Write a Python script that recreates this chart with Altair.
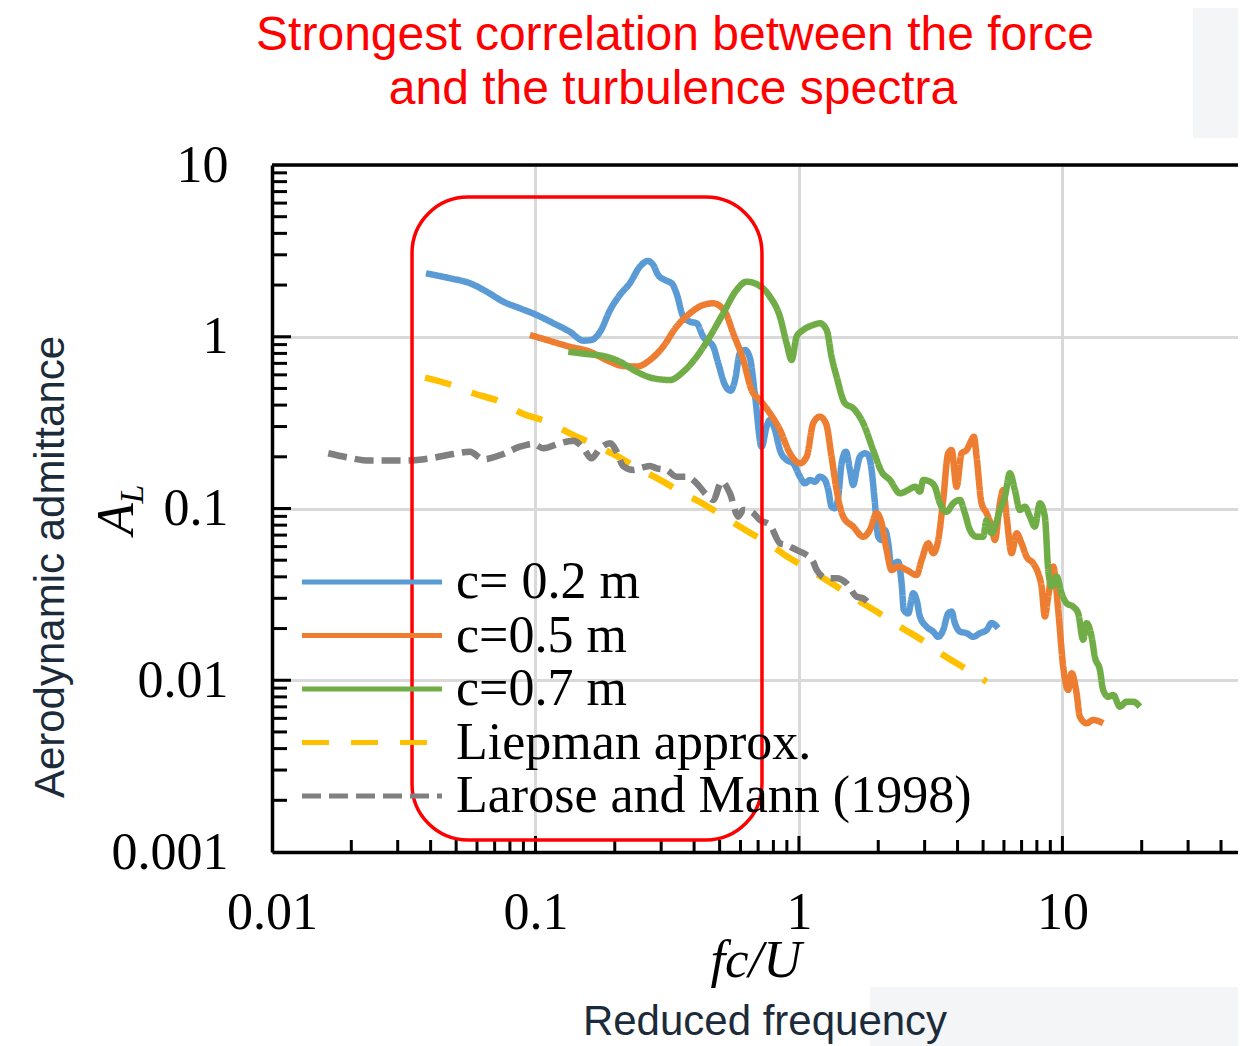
import altair as alt
import pandas as pd

# ---------------- data ----------------
series_names = ["c= 0.2 m", "c=0.5 m", "c=0.7 m", "Liepman approx.", "Larose and Mann (1998)"]
series_colors = ["#5b9bd5", "#ed7d31", "#70ad47", "#ffc000", "#808080"]
series_dashes = [[1, 0], [1, 0], [1, 0], [27, 22], [19, 8]]

c02_points = [
    (0.0384, 2.34), (0.0474, 2.19), (0.0564, 2.05), (0.0653, 1.83), (0.0755, 1.60), (0.0873, 1.465),
    (0.101, 1.339), (0.117, 1.198), (0.135, 1.070), (0.152, 0.949), (0.163, 0.958), (0.176, 1.070),
    (0.192, 1.432), (0.209, 1.750), (0.228, 2.047), (0.249, 2.558), (0.267, 2.761), (0.280, 2.617),
    (0.292, 2.289), (0.310, 2.14), (0.329, 2.047), (0.343, 1.79), (0.364, 1.309), (0.386, 1.224),
    (0.409, 1.198), (0.433, 1.001), (0.473, 0.875), (0.494, 0.701), (0.524, 0.524), (0.551, 0.485),
    (0.572, 0.560), (0.597, 0.801), (0.624, 0.837), (0.652, 0.749), (0.681, 0.458), (0.722, 0.229),
    (0.754, 0.300), (0.776, 0.328), (0.811, 0.287), (0.847, 0.219), (0.898, 0.1916), (0.951, 0.1834),
    (1.009, 0.1532), (1.054, 0.1402), (1.101, 0.1466), (1.150, 0.1433), (1.201, 0.1532), (1.255, 0.1466),
    (1.292, 0.1282), (1.330, 0.1025), (1.370, 0.1003), (1.410, 0.1172), (1.452, 0.1834), (1.508, 0.2142),
    (1.562, 0.1676), (1.607, 0.1371), (1.655, 0.1676), (1.704, 0.2003), (1.780, 0.2097), (1.832, 0.2049),
    (1.887, 0.1676), (1.943, 0.1072), (2.000, 0.0685), (2.060, 0.0656), (2.120, 0.0750), (2.183, 0.0627),
    (2.248, 0.0439), (2.314, 0.0480), (2.382, 0.0490), (2.453, 0.0367), (2.502, 0.0257), (2.598, 0.0245),
    (2.715, 0.0321), (2.797, 0.0293), (2.880, 0.0235), (3.052, 0.0205), (3.233, 0.0192), (3.378, 0.0179),
    (3.528, 0.0196), (3.686, 0.0245), (3.797, 0.0251), (3.908, 0.0215), (4.083, 0.0192), (4.329, 0.0188),
    (4.586, 0.0179), (4.863, 0.0188), (5.157, 0.0196), (5.387, 0.0215), (5.705, 0.0201),
]

c05_points = [
    (0.0953, 1.024), (0.1103, 0.958), (0.135, 0.875), (0.161, 0.818), (0.186, 0.732), (0.215, 0.676),
    (0.242, 0.670), (0.272, 0.732), (0.305, 0.875), (0.343, 1.144), (0.386, 1.370), (0.433, 1.531),
    (0.473, 1.566), (0.524, 1.399), (0.563, 1.048), (0.615, 0.732), (0.661, 0.490), (0.711, 0.428),
    (0.776, 0.3585), (0.847, 0.287), (0.924, 0.2097), (1.009, 0.1834), (1.070, 0.2003), (1.133, 0.3135),
    (1.201, 0.3425), (1.266, 0.3135), (1.330, 0.2003), (1.390, 0.1282), (1.473, 0.0896), (1.607, 0.0784),
    (1.754, 0.0685), (1.859, 0.0750), (1.972, 0.0938), (2.060, 0.0820), (2.152, 0.0573), (2.248, 0.0439),
    (2.382, 0.0459), (2.563, 0.0439), (2.797, 0.0410), (2.922, 0.0502), (3.096, 0.0627), (3.233, 0.0549),
    (3.378, 0.0656), (3.528, 0.1121), (3.686, 0.2097), (3.797, 0.219), (3.966, 0.134), (4.143, 0.2097),
    (4.329, 0.219), (4.522, 0.2506), (4.614, 0.262), (4.724, 0.2003), (4.935, 0.1072), (5.157, 0.0938),
    (5.387, 0.0784), (5.543, 0.0656), (5.792, 0.1072), (5.961, 0.1282), (6.141, 0.0896), (6.415, 0.0549),
    (6.701, 0.0717), (6.999, 0.0627), (7.312, 0.0524), (7.745, 0.0480), (8.09, 0.0420), (8.337, 0.0351),
    (8.58, 0.0235), (8.834, 0.0307), (9.23, 0.0459), (9.64, 0.0257), (10.07, 0.0120), (10.52, 0.00878),
    (10.84, 0.0110), (11.32, 0.00840), (11.65, 0.00614), (12.35, 0.00562), (13.09, 0.00587), (14.28, 0.00562),
]

c07_points = [
    (0.1332, 0.818), (0.156, 0.794), (0.186, 0.765), (0.209, 0.716), (0.242, 0.626), (0.280, 0.573),
    (0.324, 0.560), (0.364, 0.626), (0.409, 0.765), (0.459, 1.001), (0.516, 1.370), (0.580, 1.872),
    (0.633, 2.092), (0.701, 2.001), (0.776, 1.711), (0.847, 1.309), (0.898, 0.916), (0.938, 0.732),
    (0.980, 1.001), (1.038, 1.095), (1.133, 1.171), (1.201, 1.198), (1.274, 1.095), (1.330, 0.765),
    (1.390, 0.585), (1.495, 0.410), (1.607, 0.3834), (1.754, 0.3135), (1.913, 0.219), (2.060, 0.1638),
    (2.215, 0.1466), (2.417, 0.1227), (2.598, 0.1282), (2.756, 0.134), (2.880, 0.1253), (2.963, 0.1466),
    (3.141, 0.1433), (3.281, 0.134), (3.428, 0.1072), (3.635, 0.0958), (3.850, 0.1072), (4.083, 0.1121),
    (4.266, 0.0938), (4.456, 0.0750), (4.724, 0.0685), (5.006, 0.0685), (5.157, 0.0857), (5.387, 0.0717),
    (5.543, 0.0784), (5.792, 0.0980), (6.05, 0.1172), (6.32, 0.1604), (6.60, 0.1282), (6.90, 0.0980),
    (7.20, 0.1025), (7.53, 0.0896), (7.86, 0.0784), (8.21, 0.1072), (8.58, 0.0896), (8.834, 0.0439),
    (9.10, 0.0351), (9.51, 0.0401), (9.93, 0.0321), (10.37, 0.0281), (10.99, 0.0268), (11.48, 0.0245),
    (11.99, 0.0172), (12.35, 0.0215), (12.91, 0.0179), (13.28, 0.0137), (13.88, 0.01148), (14.28, 0.00878),
    (14.92, 0.00802), (15.59, 0.00821), (16.53, 0.00702), (17.52, 0.00750), (18.56, 0.00750), (19.68, 0.00702),
]

liepman_points = [
    (0.0381, 0.578), (0.0481, 0.524), (0.0581, 0.469), (0.0733, 0.419), (0.0886, 0.3585), (0.1103, 0.320),
    (0.135, 0.274), (0.168, 0.2343), (0.200, 0.2049), (0.2455, 0.1714), (0.297, 0.1466), (0.364, 0.1227),
    (0.440, 0.1048), (0.532, 0.0877), (0.642, 0.0733), (0.765, 0.0627), (0.924, 0.0513), (1.101, 0.0439),
    (1.390, 0.0351), (1.632, 0.0300), (1.972, 0.0251), (2.417, 0.0205), (2.922, 0.0172), (3.528, 0.01404),
    (4.266, 0.01174), (5.157, 0.00981),
]

larose_points = [
    (0.01635, 0.2097), (0.0192, 0.1987), (0.02355, 0.190), (0.0315, 0.190), (0.0398, 0.196), (0.0488, 0.2077),
    (0.0564, 0.2142), (0.0634, 0.1935), (0.0755, 0.2077), (0.0873, 0.229), (0.0981, 0.2375), (0.1070, 0.2242),
    (0.1239, 0.2397), (0.1391, 0.2482), (0.152, 0.2242), (0.163, 0.196), (0.176, 0.2242), (0.192, 0.2397),
    (0.2033, 0.2142), (0.215, 0.1768), (0.235, 0.1676), (0.2565, 0.1738), (0.272, 0.1768), (0.2884, 0.1714),
    (0.3147, 0.1676), (0.343, 0.1532), (0.3748, 0.1532), (0.409, 0.1402), (0.446, 0.1199), (0.473, 0.1121),
    (0.509, 0.1433), (0.547, 0.1227), (0.588, 0.0896), (0.615, 0.0980), (0.661, 0.0958), (0.711, 0.0857),
    (0.776, 0.0802), (0.847, 0.0627), (0.898, 0.0613), (0.951, 0.0587), (1.009, 0.0561), (1.070, 0.0536),
    (1.133, 0.0490), (1.167, 0.0439), (1.274, 0.0393), (1.390, 0.0393), (1.517, 0.0367), (1.655, 0.0307),
    (1.754, 0.0300), (1.887, 0.0268),
]

x_ticks = [0.01, 0.1, 1, 10]
y_ticks = [0.001, 0.01, 0.1, 1, 10]
x_domain = [0.01, 46.4]
y_domain = [0.001, 10]
x_major_marks = [0.1, 1, 10]
y_major_marks = [0.01, 0.1, 1]
x_minor_marks = [m * 10.0 ** e for e in (-2, -1, 0, 1) for m in range(2, 10) if m * 10.0 ** e <= 46]
y_minor_marks = [m * 10.0 ** e for e in (-3, -2, -1, 0) for m in range(2, 10)]

box_x = [0.034, 0.724]
box_y = [6.51, 0.001175]

title_lines = ["Strongest correlation between the force", "and the turbulence spectra"]
x_title = "fc/U"
x_caption = "Reduced frequency"
y_caption = "Aerodynamic admittance"
y_symbol = ["A", "L"]

# ---------------- build ----------------
W, H = 966, 687
SERIF = "Liberation Serif"
SANS = "Liberation Sans"
NAVY = "#1c2b3a"
PANEL = "#f4f5f7"

rows = []
for name, pts in zip(series_names, [c02_points, c05_points, c07_points, liepman_points, larose_points]):
    for x, y in pts:
        rows.append({"series": name, "fcU": x, "AL": y})
df = pd.DataFrame(rows)

xscale = alt.Scale(type="log", domain=x_domain, nice=False)
yscale = alt.Scale(type="log", domain=y_domain, nice=False)

xaxis = alt.Axis(values=x_ticks, format="~g", grid=True, gridColor="#d9d9d9", gridWidth=3,
                 ticks=False, domainColor="black", domainWidth=3.5,
                 labelFont=SERIF, labelFontSize=52, labelColor="black",
                 labelPadding=76, labelBaseline="alphabetic", labelFlush=False)
yaxis = alt.Axis(values=y_ticks, format="~g", grid=True, gridColor="#d9d9d9", gridWidth=3,
                 ticks=False, domainColor="black", domainWidth=3.5,
                 labelFont=SERIF, labelFontSize=52, labelColor="black",
                 labelPadding=44, labelFlush=False)

legend = alt.Legend(orient="none", legendX=74, legendY=391, padding=0,
                    symbolType="M-5,0H5", symbolSize=784, symbolStrokeWidth=5,
                    labelFont=SERIF, labelFontSize=52, labelColor="black",
                    labelLimit=1000, labelOffset=58, rowPadding=1.5)

color = alt.Color("series:N", scale=alt.Scale(domain=series_names, range=series_colors),
                  legend=legend, title=None)
dash = alt.StrokeDash("series:N", scale=alt.Scale(domain=series_names, range=series_dashes),
                      legend=legend, title=None)


def panel(x1, x2, y1, y2):
    return (alt.Chart(pd.DataFrame({"p": [0]})).mark_rect(color=PANEL)
            .encode(x=alt.value(x1), x2=alt.value(x2), y=alt.value(y1), y2=alt.value(y2)))


layers = [panel(921, 966, -165, -27), panel(598, 966, 822, 890)]

for name in series_names:
    layers.append(
        alt.Chart(df).transform_filter(alt.datum.series == name)
        .mark_line(strokeWidth=6.5, strokeJoin="round", interpolate="monotone")
        .encode(x=alt.X("fcU:Q", scale=xscale, axis=xaxis, title=None),
                y=alt.Y("AL:Q", scale=yscale, axis=yaxis, title=None),
                color=color, strokeDash=dash)
    )

# top frame line
layers.append(
    alt.Chart(pd.DataFrame({"v": [y_domain[1]]})).mark_rule(color="black", strokeWidth=3.5)
    .encode(y=alt.Y("v:Q", scale=yscale), x=alt.value(0), x2=alt.value(W))
)
# inward ticks
layers.append(
    alt.Chart(pd.DataFrame({"v": x_minor_marks})).mark_rule(color="black", strokeWidth=3)
    .encode(x=alt.X("v:Q", scale=xscale), y=alt.value(H), y2=alt.value(H - 12))
)
layers.append(
    alt.Chart(pd.DataFrame({"v": x_major_marks})).mark_rule(color="black", strokeWidth=3)
    .encode(x=alt.X("v:Q", scale=xscale), y=alt.value(H), y2=alt.value(H - 16))
)
layers.append(
    alt.Chart(pd.DataFrame({"v": y_minor_marks})).mark_rule(color="black", strokeWidth=3)
    .encode(y=alt.Y("v:Q", scale=yscale), x=alt.value(0), x2=alt.value(15))
)
layers.append(
    alt.Chart(pd.DataFrame({"v": y_major_marks})).mark_rule(color="black", strokeWidth=3)
    .encode(y=alt.Y("v:Q", scale=yscale), x=alt.value(0), x2=alt.value(19))
)

# red highlight box
layers.append(
    alt.Chart(pd.DataFrame({"x1": [box_x[0]], "x2": [box_x[1]], "y1": [box_y[0]], "y2": [box_y[1]]}))
    .mark_rect(filled=False, color="#ff0000", strokeWidth=3.5, cornerRadius=56)
    .encode(x=alt.X("x1:Q", scale=xscale), x2="x2:Q", y=alt.Y("y1:Q", scale=yscale), y2="y2:Q")
)


def label(text, x, y, size, font, color="black", angle=0, style="normal", align="center"):
    kw = dict(fontSize=size, font=font, color=color, align=align, baseline="alphabetic",
              fontStyle=style)
    if angle:
        kw["angle"] = angle
    return (alt.Chart(pd.DataFrame({"t": [text]})).mark_text(**kw)
            .encode(text="t:N", x=alt.value(x), y=alt.value(y)))


layers.append(label(title_lines[0], 403, -115, 48, SANS, color="#ff0000"))
layers.append(label(title_lines[1], 401, -61, 48, SANS, color="#ff0000"))
layers.append(label(x_title, 484, 812, 53, SERIF, style="italic"))
layers.append(label(x_caption, 493, 870, 42, SANS, color=NAVY))
layers.append(label(y_caption, -208, 402, 42, SANS, color=NAVY, angle=270))
layers.append(label(y_symbol[0], -139, 354, 52, SERIF, style="italic", angle=270))
layers.append(label(y_symbol[1], -129, 329, 34, SERIF, style="italic", angle=270))

chart = (
    alt.layer(*layers)
    .properties(width=W, height=H, autosize=alt.AutoSizeParams(type="none"),
                padding={"left": 264, "top": 157, "right": 0, "bottom": 194})
    .configure_view(strokeWidth=0)
    .configure(background="white")
)

chart.save("out.html", embed_options={"renderer": "svg", "actions": False})
